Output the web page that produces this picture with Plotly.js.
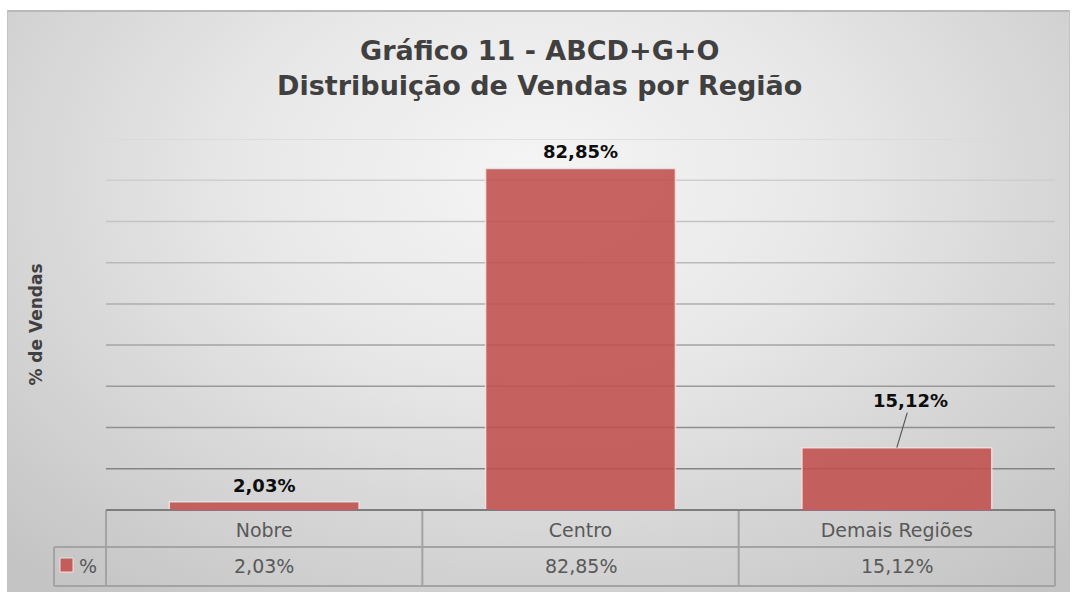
<!DOCTYPE html>
<html>
<head>
<meta charset="utf-8">
<script src="https://cdn.plot.ly/plotly-3.0.1.min.js"></script>
<style>
  html, body { margin: 0; padding: 0; background: #ffffff; }
  #frame {
    position: absolute; left: 7px; top: 10px; width: 1063px; height: 590px;
    box-sizing: border-box;
    border-top: 2px solid #b9b9b9; border-left: 1px solid #c3c3c3; border-right: 1px solid #c3c3c3;
    background: radial-gradient(ellipse 72% 90% at 50% 28%, #f5f5f5 0%, #e8e8e8 38%, #d5d5d5 70%, #c4c4c4 100%);
  }
  #chart { position: absolute; left: 0; top: 0; width: 1073px; height: 592px; }
</style>
</head>
<body>
<div id="frame"></div>
<div id="chart"></div>
<script>
// ---- data ----
const categories = ['Nobre', 'Centro', 'Demais Regiões'];
const shares = [2.03, 82.85, 15.12];
const seriesName = '%';
const chartTitle = 'Gráfico 11 - ABCD+G+O<br>Distribuição de Vendas por Região';
const yTitle = '% de Vendas';
const yMax = 90;
const yStep = 10;

// ---- style ----
const W = 1073, H = 592;
const M = { l: 106, r: 18, t: 139, b: 82 };
const plotW = W - M.l - M.r;
const barColor = 'rgba(192,80,77,0.88)';
const tableLine = '#a3a3a3';
const leaderLabel = { index: 2, ax: 14, ay: -47 };

function fmt(v) { return v.toFixed(2).replace('.', ',') + '%'; }
function hex2(n) { const s = Math.round(n).toString(16); return s.length < 2 ? '0' + s : s; }
function grey(g) { return '#' + hex2(g) + hex2(g) + hex2(g); }

const shapes = [];
// gradient-coloured horizontal gridlines (lighter towards the top)
for (let v = yStep; v <= yMax; v += yStep) {
  const t = (v - yStep) / (yMax - yStep);
  shapes.push({ type: 'line', xref: 'paper', yref: 'y', x0: 0, x1: 1, y0: v, y1: v,
    line: { color: grey(132 + t * (216 - 132)), width: 1.5 }, layer: 'below' });
}
// data table lines (pixel offsets from the bottom-left corner of the plot)
function pxLine(x0, y0, x1, y1, color, width) {
  shapes.push({ type: 'line', xref: 'paper', yref: 'paper', xanchor: 0, yanchor: 0,
    xsizemode: 'pixel', ysizemode: 'pixel', x0: x0, x1: x1, y0: y0, y1: y1,
    line: { color: color, width: width } });
}
const rowMid = -37, rowBot = -76, legendLeft = -52;
pxLine(legendLeft, rowMid, plotW, rowMid, tableLine, 2);
pxLine(legendLeft, rowBot, plotW, rowBot, tableLine, 2);
pxLine(legendLeft, rowMid, legendLeft, rowBot, tableLine, 2);
for (let i = 0; i <= categories.length; i++) {
  const xp = i * plotW / categories.length;
  pxLine(xp, 0, xp, rowBot, tableLine, 2);
}
pxLine(0, 0, plotW, 0, '#7d7d7d', 2);
// legend key square
shapes.push({ type: 'rect', xref: 'paper', yref: 'paper', xanchor: 0, yanchor: 0,
  xsizemode: 'pixel', ysizemode: 'pixel', x0: -46, x1: -33, y0: -48, y1: -62,
  fillcolor: barColor, line: { color: 'rgba(255,225,225,0.9)', width: 1 } });

const annotations = [];
// data labels above bars
categories.forEach(function (c, i) {
  const a = { x: c, y: shares[i], xref: 'x', yref: 'y', text: fmt(shares[i]),
    font: { family: 'DejaVu Sans', size: 18, color: '#0d0d0d', weight: 'bold' } };
  if (i === leaderLabel.index) {
    Object.assign(a, { showarrow: true, ax: leaderLabel.ax, ay: leaderLabel.ay,
      arrowhead: 0, arrowwidth: 1.2, arrowcolor: '#595959', standoff: 0 });
  } else {
    Object.assign(a, { showarrow: false, yanchor: 'bottom', yshift: 4 });
  }
  annotations.push(a);
});
// data table: value row
categories.forEach(function (c, i) {
  annotations.push({ x: c, xref: 'x', y: 0, yref: 'paper', yshift: -56, yanchor: 'middle',
    showarrow: false, text: fmt(shares[i]),
    font: { family: 'DejaVu Sans', size: 19, color: '#595959' } });
});
// data table: legend label
annotations.push({ x: 0, xref: 'paper', xshift: -18, xanchor: 'center', y: 0, yref: 'paper', yshift: -56,
  yanchor: 'middle', showarrow: false, text: seriesName,
  font: { family: 'DejaVu Sans', size: 19, color: '#595959' } });

const trace = {
  type: 'bar', name: seriesName, x: categories, y: shares,
  marker: { color: barColor, line: { color: 'rgba(255,225,225,0.85)', width: 1.5 } },
  hovertemplate: '%{x}: %{y:.2f}%<extra></extra>'
};

const layout = {
  width: W, height: H, margin: M,
  paper_bgcolor: 'rgba(0,0,0,0)', plot_bgcolor: 'rgba(0,0,0,0)',
  showlegend: false, bargap: 0.4,
  separators: ',.',
  title: { text: chartTitle, x: 0.503, xanchor: 'center', y: 0.898, yanchor: 'top', yref: 'container',
    font: { family: 'DejaVu Sans', size: 27, color: '#404040', weight: 'bold' } },
  xaxis: { type: 'category', range: [-0.5, categories.length - 0.5], showgrid: false, zeroline: false,
    showline: false, ticks: '', ticklabelstandoff: 7,
    tickfont: { family: 'DejaVu Sans', size: 19, color: '#595959' }, fixedrange: true },
  yaxis: { range: [0, yMax], dtick: yStep, showgrid: false, zeroline: false, showline: false,
    showticklabels: false, ticks: '', fixedrange: true,
    title: { text: yTitle, standoff: 58,
      font: { family: 'DejaVu Sans', size: 17, color: '#404040', weight: 'bold' } } },
  shapes: shapes,
  annotations: annotations
};

Plotly.newPlot('chart', [trace], layout, { displayModeBar: false, staticPlot: true });
</script>
</body>
</html>
